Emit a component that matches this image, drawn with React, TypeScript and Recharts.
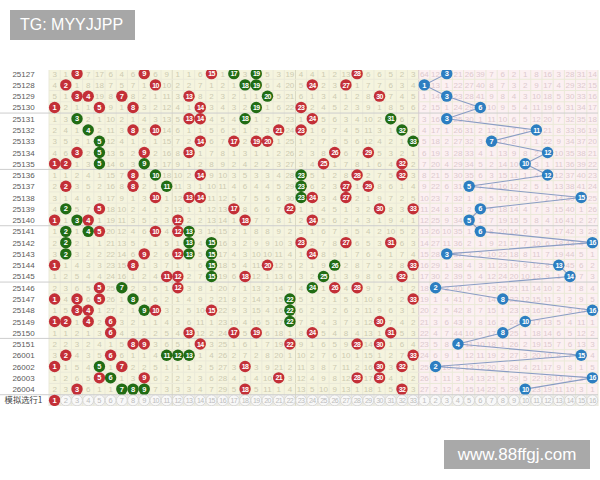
import React from 'react';
import {
  ScatterChart,
  Scatter,
  XAxis,
  YAxis,
  ReferenceArea,
  ReferenceLine,
} from 'recharts';

// issue numbers, top to bottom
const periods = [
  '25127', '25128', '25129', '25130', '25131', '25132', '25133', '25134', '25135', '25136',
  '25137', '25138', '25139', '25140', '25141', '25142', '25143', '25144', '25145', '25146',
  '25147', '25148', '25149', '25150', '25151', '26001', '26002', '26003', '26004',
];

// six red balls per issue
const redDraws = [
  [3, 9, 15, 17, 19, 28],
  [2, 10, 18, 19, 24, 27],
  [3, 4, 7, 13, 20, 30],
  [1, 5, 8, 14, 19, 23],
  [3, 13, 14, 18, 24, 31],
  [4, 8, 10, 21, 23, 32],
  [5, 14, 17, 19, 20, 33],
  [3, 5, 9, 13, 26, 29],
  [1, 2, 5, 9, 25, 32],
  [8, 10, 14, 23, 28, 32],
  [2, 8, 11, 23, 27, 29],
  [10, 13, 14, 23, 24, 27],
  [2, 5, 17, 22, 30, 33],
  [1, 3, 4, 12, 18, 24],
  [2, 4, 5, 10, 12, 13],
  [2, 13, 15, 23, 27, 31],
  [2, 9, 12, 13, 15, 24],
  [1, 8, 15, 20, 26, 33],
  [11, 12, 15, 18, 25, 32],
  [5, 7, 12, 24, 26, 28],
  [1, 3, 5, 8, 22, 33],
  [3, 4, 9, 10, 15, 22],
  [1, 2, 4, 6, 22, 30],
  [6, 13, 17, 19, 24, 31],
  [8, 9, 14, 22, 28, 30],
  [2, 6, 11, 12, 13, 33],
  [1, 5, 7, 18, 30, 32],
  [5, 6, 9, 21, 28, 30],
  [3, 7, 8, 9, 18, 32],
];

// red balls that are marked green
const greenDraws = [
  [17, 19], [18, 19], [20], [19], [3, 18, 31], [4, 32], [5, 33], [5], [5, 9], [10, 23],
  [11, 23], [23], [2], [3], [2, 4, 13], [2, 13, 15], [2, 13, 15], [15, 26], [15, 25], [7, 24],
  [8, 22], [9, 22], [22], [], [], [11, 12, 13], [5], [6], [7, 8, 9],
];

const blueDraws = [3, 1, 3, 6, 3, 11, 7, 12, 10, 12, 5, 15, 6, 5, 6, 16, 3, 13, 14, 2, 8, 16, 10, 8, 4, 15, 2, 16, 10];

// omission counts in the first listed issue (0 = drawn)
const redMissStart = [3, 1, 0, 7, 17, 6, 4, 6, 0, 6, 9, 1, 1, 6, 0, 1, 0, 3, 0, 5, 3, 19, 4, 4, 1, 2, 13, 0, 6, 6, 5, 2, 3];
const blueMissStart = [64, 12, 0, 21, 26, 39, 7, 6, 2, 1, 8, 16, 3, 28, 31, 14];

const simLabel = '模拟选行1';
const simPicked = [1];

const RED_N = 33;
const BLUE_N = 16;
const COLS = RED_N + BLUE_N;
const ROWS = periods.length + 1;
const ROW_H = 338 / ROWS;
const groupBreaks = [3, 8, 13, 18, 23, 28];

const RED = '#c32f37';
const GREEN = '#216c14';
const BLUE = '#2c7ec1';

// build omission cells and ball points
const missCells: { x: number; y: number; v: number }[] = [];
const redBalls: { x: number; y: number; n: number; green: boolean }[] = [];
const blueBalls: { x: number; y: number; n: number }[] = [];

const redCur = redMissStart.slice();
const blueCur = blueMissStart.slice();
periods.forEach((_, row) => {
  for (let c = 1; c <= RED_N; c++) {
    if (row > 0) redCur[c - 1] = (redDraws[row - 1].includes(c) ? 0 : redCur[c - 1]) + 1;
    if (redDraws[row].includes(c)) {
      redBalls.push({ x: c, y: row, n: c, green: greenDraws[row].includes(c) });
    } else {
      missCells.push({ x: c, y: row, v: redCur[c - 1] });
    }
  }
  for (let b = 1; b <= BLUE_N; b++) {
    if (row > 0) blueCur[b - 1] = (blueDraws[row - 1] === b ? 0 : blueCur[b - 1]) + 1;
    if (blueDraws[row] === b) {
      blueBalls.push({ x: RED_N + b, y: row, n: b });
    } else {
      missCells.push({ x: RED_N + b, y: row, v: blueCur[b - 1] });
    }
  }
});

const simRow = periods.length;
const simCells = [
  ...Array.from({ length: RED_N }, (_, i) => ({ x: i + 1, y: simRow, n: i + 1, on: simPicked.includes(i + 1) })),
  ...Array.from({ length: BLUE_N }, (_, i) => ({ x: RED_N + i + 1, y: simRow, n: i + 1, on: false })),
];

const rowLabels = [...periods, simLabel];
const rowTicks = rowLabels.map((_, i) => i);

const FONT = '"Liberation Sans", Arial, sans-serif';

const numSize = (n: number) => (n > 9 ? 7 : 7.5);

const MissShape = (props: any) => {
  const { cx, cy, payload } = props;
  return (
    <text
      x={cx}
      y={cy + 3}
      textAnchor="middle"
      fontSize={8}
      fontFamily={FONT}
      fill={payload.x > RED_N ? '#dccace' : '#cdcbb2'}
    >
      {payload.v}
    </text>
  );
};

const Ball = ({ cx, cy, n, color }: { cx: number; cy: number; n: number; color: string }) => (
  <g>
    <circle cx={cx} cy={cy} r={5.7} fill={color} />
    <text
      x={cx}
      y={cy + 2.6}
      textAnchor="middle"
      fontSize={numSize(n)}
      fontWeight="bold"
      letterSpacing={n > 9 ? -0.6 : 0}
      fontFamily={FONT}
      fill="#ffffff"
    >
      {n}
    </text>
  </g>
);

const RedShape = (props: any) => (
  <Ball cx={props.cx} cy={props.cy} n={props.payload.n} color={props.payload.green ? GREEN : RED} />
);

const BlueShape = (props: any) => <Ball cx={props.cx} cy={props.cy} n={props.payload.n} color={BLUE} />;

// bottom row: picked numbers filled, the rest as empty rings
const SimShape = (props: any) => {
  const { cx, cy, payload } = props;
  if (payload.on) return <Ball cx={cx} cy={cy} n={payload.n} color={RED} />;
  return (
    <g>
      <circle cx={cx} cy={cy} r={5.4} fill="#f8f8f8" stroke="#d2d2d2" strokeWidth={0.8} />
      <text
        x={cx}
        y={cy + 2.6}
        textAnchor="middle"
        fontSize={numSize(payload.n)}
        letterSpacing={payload.n > 9 ? -0.6 : 0}
        fontFamily={FONT}
        fill="#bdbdbd"
      >
        {payload.n}
      </text>
    </g>
  );
};

const PeriodTick = (props: any) => {
  const { y, payload } = props;
  const i = payload.value as number;
  const isSim = i === simRow;
  return (
    <g>
      <text
        x={23.5}
        y={y + 3}
        textAnchor="middle"
        fontSize={isSim ? 8.3 : 8}
        fontFamily={isSim ? '"Noto Sans CJK SC", sans-serif' : FONT}
        fill={isSim ? '#444' : '#5a5a5a'}
      >
        {rowLabels[i]}
      </text>
      {groupBreaks.includes(i) && (
        <line x1={0} x2={49} y1={y + ROW_H / 2} y2={y + ROW_H / 2} stroke="#cdcdcd" strokeWidth={1} />
      )}
    </g>
  );
};

export default function App() {
  const vLines = Array.from({ length: COLS + 1 }, (_, i) => i + 0.5);
  const hLines = Array.from({ length: ROWS + 1 }, (_, i) => i - 0.5);

  return (
    <div style={{ position: 'absolute', left: 0, top: 0, width: 600, height: 480, background: '#fff', overflow: 'hidden' }}>
      <div
        style={{
          position: 'absolute',
          left: 10,
          top: 10,
          width: 125,
          height: 30,
          background: '#a7a7a7',
          color: '#fff',
          fontFamily: FONT,
          fontSize: 16,
          lineHeight: '30px',
          paddingLeft: 10,
          boxSizing: 'border-box',
        }}
      >
        TG: MYYJJPP
      </div>

      <div style={{ position: 'absolute', left: 0, top: 70, width: 600, height: 336, overflow: 'hidden' }}>
        <div style={{ position: 'absolute', left: 0, top: -2 }}>
          <ScatterChart width={600} height={338} margin={{ top: 0, right: 2, bottom: 0, left: 0 }}>
            <XAxis type="number" dataKey="x" domain={[0.5, COLS + 0.5]} hide height={0} />
            <YAxis
              type="number"
              dataKey="y"
              domain={[-0.5, ROWS - 0.5]}
              reversed
              ticks={rowTicks}
              interval={0}
              tick={<PeriodTick />}
              tickLine={false}
              axisLine={false}
              width={49}
            />

            {/* zone backgrounds */}
            <ReferenceArea x1={0.5} x2={RED_N + 0.5} y1={-0.5} y2={simRow - 0.5} fill="#f5f4de" fillOpacity={1} stroke="none" />
            <ReferenceArea x1={RED_N + 0.5} x2={COLS + 0.5} y1={-0.5} y2={simRow - 0.5} fill="#fcf0f2" fillOpacity={1} stroke="none" />
            <ReferenceArea x1={0.5} x2={COLS + 0.5} y1={simRow - 0.5} y2={simRow + 0.5} fill="#ededed" fillOpacity={1} stroke="none" />

            {/* cell grid */}
            {vLines.map((v) => (
              <ReferenceLine
                key={`v${v}`}
                x={v}
                stroke={v === 11.5 || v === 22.5 ? '#dbdac4' : v === RED_N + 0.5 ? '#d8cece' : '#eae9d8'}
                strokeWidth={1}
              />
            ))}
            {hLines.map((h) => (
              <ReferenceLine
                key={`h${h}`}
                y={h}
                stroke={groupBreaks.includes(h - 0.5) ? '#cdcdcd' : '#eae9d8'}
                strokeWidth={1}
              />
            ))}

            <Scatter data={missCells} shape={<MissShape />} isAnimationActive={false} />
            <Scatter data={redBalls} shape={<RedShape />} isAnimationActive={false} />
            <Scatter
              data={blueBalls}
              line={{ stroke: '#8a9dc4', strokeWidth: 1.1 }}
              lineType="joint"
              shape={<BlueShape />}
              isAnimationActive={false}
            />
            <Scatter data={simCells} shape={<SimShape />} isAnimationActive={false} />
          </ScatterChart>
        </div>
      </div>

      <div
        style={{
          position: 'absolute',
          left: 444,
          top: 440,
          width: 146,
          height: 29,
          background: '#a9a9a9',
          color: '#fff',
          fontFamily: FONT,
          fontSize: 17,
          lineHeight: '29px',
          textAlign: 'center',
        }}
      >
        www.88ffgj.com
      </div>
    </div>
  );
}
